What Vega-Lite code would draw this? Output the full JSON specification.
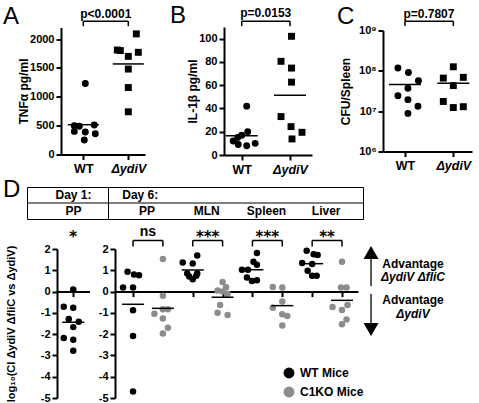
{
  "$schema": "https://vega.github.io/schema/vega-lite/v6.json",
  "autosize": {"type": "pad"},
  "padding": {"left": 0, "top": 4, "right": 0, "bottom": 0},
  "background": "white",
  "config": {
    "font": "Liberation Sans",
    "view": {"stroke": null},
    "axis": {"labelFont": "Liberation Sans", "labelFontWeight": "bold", "labelFontSize": 11, "labelColor": "black", "labelOverlap": false, "titleFont": "Liberation Sans", "titleFontWeight": "bold", "titleFontSize": 12, "titleColor": "black", "domainColor": "black", "domainWidth": 2, "tickColor": "black", "tickWidth": 2, "tickSize": 5, "grid": false, "labelPadding": 2},
    "title": {"font": "Liberation Sans", "fontWeight": "normal", "fontSize": 24, "color": "black", "anchor": "start", "frame": "group", "offset": 0},
    "text": {"font": "Liberation Sans", "fontWeight": "bold", "color": "black"}
  },
  "bounds": "full",
  "spacing": 1,
  "resolve": {"scale": {"color": "independent"}, "legend": {"color": "independent"}},
  "vconcat": [
    {
      "bounds": "flush",
      "center": true,
      "spacing": 35,
      "hconcat": [
        {"width": 26, "height": 1, "data": {"values": [{}]}, "mark": {"type": "rect", "opacity": 0}, "encoding": {}},
        {
          "width": 84, "height": 127,
          "title": {"text": "A", "dx": -58, "dy": 25},
          "data": {"values": [
            {"group": "WT", "v": 1230, "j": 0.4},
            {"group": "WT", "v": 500, "j": -1.8},
            {"group": "WT", "v": 490, "j": -0.8},
            {"group": "WT", "v": 510, "j": 2.2},
            {"group": "WT", "v": 400, "j": -1.8},
            {"group": "WT", "v": 390, "j": 0.4},
            {"group": "WT", "v": 360, "j": 2.4},
            {"group": "WT", "v": 250, "j": 0.2},
            {"group": "ΔydiV", "v": 2090, "j": 1.6},
            {"group": "ΔydiV", "v": 1810, "j": -2.2},
            {"group": "ΔydiV", "v": 1800, "j": -1.6},
            {"group": "ΔydiV", "v": 1770, "j": 2.0},
            {"group": "ΔydiV", "v": 1700, "j": 0},
            {"group": "ΔydiV", "v": 1480, "j": 0},
            {"group": "ΔydiV", "v": 1160, "j": 0},
            {"group": "ΔydiV", "v": 740, "j": 0}
          ]},
          "layer": [
            {"mark": {"type": "point", "filled": true, "opacity": 1, "size": 48, "color": "black"},
             "encoding": {
               "x": {"field": "group", "type": "nominal", "scale": {"type": "point", "domain": ["WT", "ΔydiV"], "padding": 0.433, "align": 0.572}, "axis": {"title": null, "labelAngle": 0, "labelFontSize": 12.5, "labelPadding": 3, "labelFontStyle": {"condition": {"test": "datum.value === 'WT'", "value": "normal"}, "value": "italic"}}},
               "xOffset": {"field": "j", "type": "quantitative", "scale": {"domain": [-3, 3], "range": [-15, 15]}},
               "y": {"field": "v", "type": "quantitative", "scale": {"domain": [0, 2200], "nice": false}, "axis": {"values": [0, 500, 1000, 1500, 2000], "tickCount": 20, "format": "d", "labelOverlap": false, "title": "TNFα pg/ml", "titlePadding": -1}},
               "shape": {"field": "group", "type": "nominal", "scale": {"domain": ["WT", "ΔydiV"], "range": ["circle", "square"]}, "legend": null}
             }},
            {"mark": {"type": "tick", "color": "black", "size": 31, "thickness": 1.5},
             "encoding": {"x": {"field": "group", "type": "nominal"}, "y": {"aggregate": "mean", "field": "v", "type": "quantitative"}}},
            {"data": {"values": [{}]}, "mark": {"type": "rule", "color": "black", "strokeWidth": 1.5},
             "encoding": {"x": {"datum": "WT"}, "x2": {"datum": "ΔydiV"}, "y": {"datum": 2309}}},
            {"data": {"values": [{}]}, "mark": {"type": "rule", "color": "black", "strokeWidth": 1.5},
             "encoding": {"x": {"datum": "WT"}, "y": {"datum": 2309}, "y2": {"datum": 2222}}},
            {"data": {"values": [{}]}, "mark": {"type": "rule", "color": "black", "strokeWidth": 1.5},
             "encoding": {"x": {"datum": "ΔydiV"}, "y": {"datum": 2309}, "y2": {"datum": 2222}}},
            {"data": {"values": [{}]}, "mark": {"type": "text", "fontSize": 12, "dx": 22.5, "align": "center", "baseline": "alphabetic"},
             "encoding": {"x": {"datum": "WT"}, "y": {"datum": 2373}, "text": {"value": "p<0.0001"}}}
          ]
        },
        {"width": 9, "height": 1, "data": {"values": [{}]}, "mark": {"type": "rect", "opacity": 0}, "encoding": {}},
        {
          "width": 88, "height": 128,
          "title": {"text": "B", "dx": -54, "dy": 25},
          "data": {"values": [
            {"group": "WT", "v": 42, "j": 1},
            {"group": "WT", "v": 20, "j": 1.2},
            {"group": "WT", "v": 17, "j": 0},
            {"group": "WT", "v": 15, "j": -0.8},
            {"group": "WT", "v": 12, "j": -1.7},
            {"group": "WT", "v": 10, "j": 2.7},
            {"group": "WT", "v": 9, "j": -0.7},
            {"group": "WT", "v": 8, "j": 1},
            {"group": "ΔydiV", "v": 102, "j": 0.3},
            {"group": "ΔydiV", "v": 80.5, "j": -1.8},
            {"group": "ΔydiV", "v": 74.7, "j": 0.3},
            {"group": "ΔydiV", "v": 62.6, "j": 0.3},
            {"group": "ΔydiV", "v": 33, "j": -1.8},
            {"group": "ΔydiV", "v": 24.4, "j": 0.2},
            {"group": "ΔydiV", "v": 19.5, "j": 2.4},
            {"group": "ΔydiV", "v": 13.8, "j": 0.4}
          ]},
          "layer": [
            {"mark": {"type": "point", "filled": true, "opacity": 1, "size": 48, "color": "black"},
             "encoding": {
               "x": {"field": "group", "type": "nominal", "scale": {"type": "point", "domain": ["WT", "ΔydiV"], "padding": 0.411, "align": 0.446}, "axis": {"title": null, "labelAngle": 0, "labelFontSize": 12.5, "labelPadding": 3, "labelFontStyle": {"condition": {"test": "datum.value === 'WT'", "value": "normal"}, "value": "italic"}}},
               "xOffset": {"field": "j", "type": "quantitative", "scale": {"domain": [-3, 3], "range": [-15, 15]}},
               "y": {"field": "v", "type": "quantitative", "scale": {"domain": [0, 110], "nice": false}, "axis": {"values": [0, 20, 40, 60, 80, 100], "tickCount": 20, "format": "d", "labelOverlap": false, "title": "IL-1β pg/ml", "titlePadding": -1}},
               "shape": {"field": "group", "type": "nominal", "scale": {"domain": ["WT", "ΔydiV"], "range": ["circle", "square"]}, "legend": null}
             }},
            {"mark": {"type": "tick", "color": "black", "size": 32, "thickness": 1.5},
             "encoding": {"x": {"field": "group", "type": "nominal"}, "y": {"aggregate": "mean", "field": "v", "type": "quantitative"}}},
            {"data": {"values": [{}]}, "mark": {"type": "rule", "color": "black", "strokeWidth": 1.5},
             "encoding": {"x": {"datum": "WT"}, "x2": {"datum": "ΔydiV"}, "y": {"datum": 115}}},
            {"data": {"values": [{}]}, "mark": {"type": "rule", "color": "black", "strokeWidth": 1.5},
             "encoding": {"x": {"datum": "WT"}, "y": {"datum": 115}, "y2": {"datum": 110.7}}},
            {"data": {"values": [{}]}, "mark": {"type": "rule", "color": "black", "strokeWidth": 1.5},
             "encoding": {"x": {"datum": "ΔydiV"}, "y": {"datum": 115}, "y2": {"datum": 110.7}}},
            {"data": {"values": [{}]}, "mark": {"type": "text", "fontSize": 12, "dx": 24, "align": "center", "baseline": "alphabetic"},
             "encoding": {"x": {"datum": "WT"}, "y": {"datum": 118.2}, "text": {"value": "p=0.0153"}}}
          ]
        },
        {"width": 1, "height": 1, "data": {"values": [{}]}, "mark": {"type": "rect", "opacity": 0}, "encoding": {}},
        {
          "width": 89, "height": 121,
          "title": {"text": "C", "dx": -46, "dy": 25},
          "data": {"values": [
            {"group": "WT", "v": 117000000, "j": -1.4},
            {"group": "WT", "v": 91000000, "j": 0.7},
            {"group": "WT", "v": 57000000, "j": 2.7},
            {"group": "WT", "v": 37000000, "j": 0.6},
            {"group": "WT", "v": 24000000, "j": -1.4},
            {"group": "WT", "v": 19300000, "j": 0.6},
            {"group": "WT", "v": 13200000, "j": 2.6},
            {"group": "WT", "v": 8800000, "j": 0.6},
            {"group": "ΔydiV", "v": 126000000, "j": 0},
            {"group": "ΔydiV", "v": 66000000, "j": -2},
            {"group": "ΔydiV", "v": 69000000, "j": 2},
            {"group": "ΔydiV", "v": 43000000, "j": 0},
            {"group": "ΔydiV", "v": 17400000, "j": -2},
            {"group": "ΔydiV", "v": 12300000, "j": 0},
            {"group": "ΔydiV", "v": 12900000, "j": 2}
          ]},
          "layer": [
            {"mark": {"type": "point", "filled": true, "opacity": 1, "size": 48, "color": "black"},
             "encoding": {
               "x": {"field": "group", "type": "nominal", "scale": {"type": "point", "domain": ["WT", "ΔydiV"], "padding": 0.42, "align": 0.54}, "axis": {"title": null, "labelAngle": 0, "labelFontSize": 12.5, "labelPadding": 3, "labelFontStyle": {"condition": {"test": "datum.value === 'WT'", "value": "normal"}, "value": "italic"}}},
               "xOffset": {"field": "j", "type": "quantitative", "scale": {"domain": [-3, 3], "range": [-15, 15]}},
               "y": {"field": "v", "type": "quantitative", "scale": {"type": "log", "domain": [1000000, 1000000000], "nice": false}, "axis": {"values": [1000000, 10000000, 100000000, 1000000000], "tickCount": 20, "labelOverlap": false, "labelExpr": "'10' + ['⁶','⁷','⁸','⁹'][round(log(datum.value)/LN10)-6]", "title": "CFU/Spleen", "titlePadding": 6}},
               "shape": {"field": "group", "type": "nominal", "scale": {"domain": ["WT", "ΔydiV"], "range": ["circle", "square"]}, "legend": null}
             }},
            {"mark": {"type": "tick", "color": "black", "size": 32, "thickness": 1.5},
             "encoding": {"x": {"field": "group", "type": "nominal"}, "y": {"aggregate": "mean", "field": "v", "type": "quantitative"}}},
            {"data": {"values": [{}]}, "mark": {"type": "rule", "color": "black", "strokeWidth": 1.5},
             "encoding": {"x": {"datum": "WT"}, "x2": {"datum": "ΔydiV"}, "y": {"datum": 1700000000}}},
            {"data": {"values": [{}]}, "mark": {"type": "rule", "color": "black", "strokeWidth": 1.5},
             "encoding": {"x": {"datum": "WT"}, "y": {"datum": 1700000000}, "y2": {"datum": 1290000000}}},
            {"data": {"values": [{}]}, "mark": {"type": "rule", "color": "black", "strokeWidth": 1.5},
             "encoding": {"x": {"datum": "ΔydiV"}, "y": {"datum": 1700000000}, "y2": {"datum": 1290000000}}},
            {"data": {"values": [{}]}, "mark": {"type": "text", "fontSize": 12, "dx": 24, "align": "center", "baseline": "alphabetic"},
             "encoding": {"x": {"datum": "WT"}, "y": {"datum": 2100000000}, "text": {"value": "p=0.7807"}}}
          ]
        }
      ]
    },
    {
      "bounds": "flush",
      "spacing": 0,
      "hconcat": [
        {"width": 27, "height": 36.5, "data": {"values": [{}]}, "mark": {"type": "rect", "opacity": 0}, "encoding": {}},
        {
          "width": 81, "height": 32,
          "view": {"stroke": "black", "strokeWidth": 1, "fill": "white"},
          "title": {"text": "D", "dx": -24, "dy": 19},
          "data": {"values": [{"row": "Day", "t": "Day 1:"}, {"row": "Tissue", "t": "PP"}]},
          "layer": [
            {"mark": {"type": "text", "fontSize": 12, "baseline": "middle", "align": "center", "dx": 6},
             "encoding": {"y": {"field": "row", "type": "nominal", "scale": {"type": "band", "domain": ["Day", "Tissue"], "paddingInner": 0, "paddingOuter": 0}, "axis": null}, "text": {"field": "t"}}},
            {"data": {"values": [{}]}, "mark": {"type": "rule", "color": "black", "strokeWidth": 1},
             "encoding": {"y": {"datum": "Tissue", "type": "nominal", "bandPosition": 0, "axis": null}}}
          ]
        },
        {
          "width": 255, "height": 32,
          "view": {"stroke": "black", "strokeWidth": 1, "fill": "white"},
          "data": {"values": [{"tissue": "PP"}, {"tissue": "MLN"}, {"tissue": "Spleen"}, {"tissue": "Liver"}]},
          "layer": [
            {"mark": {"type": "text", "fontSize": 12, "baseline": "middle", "align": "center"},
             "encoding": {
               "x": {"field": "tissue", "type": "nominal", "scale": {"type": "band", "domain": ["PP", "MLN", "Spleen", "Liver"], "paddingInner": 0, "paddingOuter": 0.136, "align": 0.57}, "axis": null},
               "y": {"datum": "Tissue", "type": "nominal", "scale": {"type": "band", "domain": ["Day", "Tissue"], "paddingInner": 0, "paddingOuter": 0}, "axis": null},
               "text": {"field": "tissue"}
             }},
            {"data": {"values": [{}]}, "mark": {"type": "text", "fontSize": 12, "baseline": "middle", "align": "left", "dx": 5},
             "encoding": {"x": {"datum": "PP", "type": "nominal", "bandPosition": 0, "axis": null}, "y": {"datum": "Day", "type": "nominal", "axis": null}, "text": {"value": "Day 6:"}}},
            {"data": {"values": [{}]}, "mark": {"type": "rule", "color": "black", "strokeWidth": 1},
             "encoding": {"y": {"datum": "Tissue", "type": "nominal", "bandPosition": 0, "axis": null}}}
          ]
        }
      ]
    },
    {
      "bounds": "flush",
      "spacing": 25,
      "resolve": {"scale": {"color": "independent"}, "legend": {"color": "independent"}},
      "hconcat": [
        {"width": 31.5, "height": 1, "data": {"values": [{}]}, "mark": {"type": "rect", "opacity": 0}, "encoding": {}},
        {
          "width": 32.5, "height": 149,
          "data": {"values": [
            {"g": "PP", "v": 0.1, "j": 0},
            {"g": "PP", "v": -0.71, "j": -1.9},
            {"g": "PP", "v": -0.76, "j": 0},
            {"g": "PP", "v": -1.29, "j": -0.9},
            {"g": "PP", "v": -1.42, "j": 1.1},
            {"g": "PP", "v": -1.67, "j": 0},
            {"g": "PP", "v": -2.18, "j": -1.9},
            {"g": "PP", "v": -2.26, "j": 0},
            {"g": "PP", "v": -2.78, "j": 0}
          ]},
          "layer": [
            {"mark": {"type": "point", "filled": true, "opacity": 1, "size": 42, "color": "black"},
             "encoding": {
               "x": {"field": "g", "type": "nominal", "scale": {"type": "point", "padding": 0.5}, "axis": {"title": null, "labels": false, "offset": -106.43}},
               "xOffset": {"field": "j", "type": "quantitative", "scale": {"domain": [-3, 3], "range": [-15, 15]}},
               "y": {"field": "v", "type": "quantitative", "scale": {"domain": [-5, 2], "nice": false}, "axis": {"values": [-5, -4, -3, -2, -1, 0, 1, 2], "tickCount": 20, "labelOverlap": false, "labelExpr": "'' + datum.value", "title": "log₁₀(CI ΔydiV ΔfliC vs ΔydiV)", "titleFontSize": 11, "titlePadding": 24}}
             }},
            {"mark": {"type": "tick", "color": "black", "size": 22, "thickness": 1.5},
             "encoding": {"x": {"field": "g", "type": "nominal"}, "y": {"aggregate": "mean", "field": "v", "type": "quantitative"}}},
            {"data": {"values": [{}]}, "mark": {"type": "text", "font": "DejaVu Sans", "fontSize": 15, "align": "center", "baseline": "alphabetic"},
             "encoding": {"x": {"datum": "PP"}, "y": {"datum": 2.33}, "text": {"value": "*"}}}
          ]
        },
        {
          "width": 243, "height": 149,
          "data": {"values": [
            {"g": "PP WT", "mice": "WT Mice", "v": 0.93, "j": -1.1},
            {"g": "PP WT", "mice": "WT Mice", "v": 0.8, "j": 0.2},
            {"g": "PP WT", "mice": "WT Mice", "v": 0.77, "j": 1.2},
            {"g": "PP WT", "mice": "WT Mice", "v": 0.19, "j": -2},
            {"g": "PP WT", "mice": "WT Mice", "v": 0.19, "j": 0},
            {"g": "PP WT", "mice": "WT Mice", "v": -0.88, "j": 0},
            {"g": "PP WT", "mice": "WT Mice", "v": -2.09, "j": 0},
            {"g": "PP WT", "mice": "WT Mice", "v": -4.69, "j": 0},
            {"g": "PP C1KO", "mice": "C1KO Mice", "v": 1.53, "j": 0},
            {"g": "PP C1KO", "mice": "C1KO Mice", "v": -0.2, "j": 0},
            {"g": "PP C1KO", "mice": "C1KO Mice", "v": -1.04, "j": -1.7},
            {"g": "PP C1KO", "mice": "C1KO Mice", "v": -0.83, "j": 0},
            {"g": "PP C1KO", "mice": "C1KO Mice", "v": -0.83, "j": 1},
            {"g": "PP C1KO", "mice": "C1KO Mice", "v": -1.26, "j": 0},
            {"g": "PP C1KO", "mice": "C1KO Mice", "v": -1.7, "j": 1},
            {"g": "PP C1KO", "mice": "C1KO Mice", "v": -1.97, "j": 0},
            {"g": "MLN WT", "mice": "WT Mice", "v": 1.37, "j": -2},
            {"g": "MLN WT", "mice": "WT Mice", "v": 1.69, "j": 0.9},
            {"g": "MLN WT", "mice": "WT Mice", "v": 1.32, "j": 0},
            {"g": "MLN WT", "mice": "WT Mice", "v": 0.85, "j": -1.1},
            {"g": "MLN WT", "mice": "WT Mice", "v": 0.85, "j": 0.9},
            {"g": "MLN WT", "mice": "WT Mice", "v": 0.71, "j": -0.7},
            {"g": "MLN WT", "mice": "WT Mice", "v": 0.58, "j": 0},
            {"g": "MLN WT", "mice": "WT Mice", "v": 0.74, "j": 0.7},
            {"g": "MLN C1KO", "mice": "C1KO Mice", "v": 0.45, "j": 0},
            {"g": "MLN C1KO", "mice": "C1KO Mice", "v": 0.2, "j": 0.7},
            {"g": "MLN C1KO", "mice": "C1KO Mice", "v": 0.05, "j": -1},
            {"g": "MLN C1KO", "mice": "C1KO Mice", "v": 0.0, "j": 0},
            {"g": "MLN C1KO", "mice": "C1KO Mice", "v": -0.1, "j": 1},
            {"g": "MLN C1KO", "mice": "C1KO Mice", "v": -0.63, "j": -0.5},
            {"g": "MLN C1KO", "mice": "C1KO Mice", "v": -1.0, "j": -1},
            {"g": "MLN C1KO", "mice": "C1KO Mice", "v": -1.1, "j": 1},
            {"g": "Spleen WT", "mice": "WT Mice", "v": 1.81, "j": 0.9},
            {"g": "Spleen WT", "mice": "WT Mice", "v": 1.4, "j": 0.2},
            {"g": "Spleen WT", "mice": "WT Mice", "v": 1.26, "j": 0.9},
            {"g": "Spleen WT", "mice": "WT Mice", "v": 1.02, "j": -2.1},
            {"g": "Spleen WT", "mice": "WT Mice", "v": 1.02, "j": -0.9},
            {"g": "Spleen WT", "mice": "WT Mice", "v": 0.66, "j": -1.1},
            {"g": "Spleen WT", "mice": "WT Mice", "v": 0.5, "j": -0.1},
            {"g": "Spleen WT", "mice": "WT Mice", "v": 0.53, "j": 0.9},
            {"g": "Spleen C1KO", "mice": "C1KO Mice", "v": 0.22, "j": -1.9},
            {"g": "Spleen C1KO", "mice": "C1KO Mice", "v": 0.19, "j": 0},
            {"g": "Spleen C1KO", "mice": "C1KO Mice", "v": -0.47, "j": 0},
            {"g": "Spleen C1KO", "mice": "C1KO Mice", "v": -0.76, "j": -1.9},
            {"g": "Spleen C1KO", "mice": "C1KO Mice", "v": -1.07, "j": 0},
            {"g": "Spleen C1KO", "mice": "C1KO Mice", "v": -1.15, "j": 1},
            {"g": "Spleen C1KO", "mice": "C1KO Mice", "v": -1.59, "j": 0},
            {"g": "Liver WT", "mice": "WT Mice", "v": 1.92, "j": -1.1},
            {"g": "Liver WT", "mice": "WT Mice", "v": 1.75, "j": 0.3},
            {"g": "Liver WT", "mice": "WT Mice", "v": 1.72, "j": 1.1},
            {"g": "Liver WT", "mice": "WT Mice", "v": 1.34, "j": -2},
            {"g": "Liver WT", "mice": "WT Mice", "v": 1.29, "j": 0},
            {"g": "Liver WT", "mice": "WT Mice", "v": 0.98, "j": -0.9},
            {"g": "Liver WT", "mice": "WT Mice", "v": 0.74, "j": 0},
            {"g": "Liver WT", "mice": "WT Mice", "v": 0.74, "j": 0.9},
            {"g": "Liver C1KO", "mice": "C1KO Mice", "v": 1.4, "j": 0},
            {"g": "Liver C1KO", "mice": "C1KO Mice", "v": 0.19, "j": -0.2},
            {"g": "Liver C1KO", "mice": "C1KO Mice", "v": 0.19, "j": 0.9},
            {"g": "Liver C1KO", "mice": "C1KO Mice", "v": -0.72, "j": -1.9},
            {"g": "Liver C1KO", "mice": "C1KO Mice", "v": -0.87, "j": 0},
            {"g": "Liver C1KO", "mice": "C1KO Mice", "v": -0.63, "j": 1.1},
            {"g": "Liver C1KO", "mice": "C1KO Mice", "v": -1.31, "j": 0.9},
            {"g": "Liver C1KO", "mice": "C1KO Mice", "v": -1.54, "j": 0}
          ]},
          "layer": [
            {"mark": {"type": "point", "filled": true, "opacity": 1, "size": 42},
             "encoding": {
               "x": {"field": "g", "type": "nominal", "scale": {"type": "point", "domain": ["PP WT", "PP C1KO", "MLN WT", "MLN C1KO", "Spleen WT", "Spleen C1KO", "Liver WT", "Liver C1KO"], "padding": 0.57, "align": 0.53}, "axis": {"title": null, "labels": false, "offset": -106.43}},
               "xOffset": {"field": "j", "type": "quantitative", "scale": {"domain": [-3, 3], "range": [-15, 15]}},
               "y": {"field": "v", "type": "quantitative", "scale": {"domain": [-5, 2], "nice": false}, "axis": {"values": [-5, -4, -3, -2, -1, 0, 1, 2], "tickCount": 20, "labelOverlap": false, "labelExpr": "'' + datum.value", "title": null}},
               "color": {"field": "mice", "type": "nominal", "scale": {"domain": ["WT Mice", "C1KO Mice"], "range": ["#000000", "#8c8c8c"]},
                         "legend": {"orient": "none", "legendX": 168, "legendY": 118, "title": null, "symbolType": "circle", "symbolSize": 120, "labelFont": "Liberation Sans", "labelFontSize": 12, "labelFontWeight": "bold", "labelColor": "black", "rowPadding": 7, "labelOffset": 5, "symbolStrokeWidth": 0}}
             }},
            {"mark": {"type": "tick", "color": "black", "size": 22, "thickness": 1.5},
             "encoding": {"x": {"field": "g", "type": "nominal"}, "y": {"aggregate": "mean", "field": "v", "type": "quantitative"}}},
            {"data": {"values": [
               {"a": "PP WT", "b": "PP C1KO", "sig": "ns"},
               {"a": "MLN WT", "b": "MLN C1KO", "sig": "***"},
               {"a": "Spleen WT", "b": "Spleen C1KO", "sig": "***"},
               {"a": "Liver WT", "b": "Liver C1KO", "sig": "**"}
             ]},
             "layer": [
               {"mark": {"type": "rule", "color": "black", "strokeWidth": 1.5},
                "encoding": {"x": {"field": "a", "type": "nominal"}, "x2": {"field": "b"}, "y": {"datum": 2.4}}},
               {"mark": {"type": "rule", "color": "black", "strokeWidth": 1.5},
                "encoding": {"x": {"field": "a", "type": "nominal"}, "y": {"datum": 2.4}, "y2": {"datum": 2.12}}},
               {"mark": {"type": "rule", "color": "black", "strokeWidth": 1.5},
                "encoding": {"x": {"field": "b", "type": "nominal"}, "y": {"datum": 2.4}, "y2": {"datum": 2.12}}},
               {"transform": [{"filter": "datum.sig == 'ns'"}],
                "mark": {"type": "text", "fontSize": 14, "align": "center", "baseline": "alphabetic", "dx": 14.9},
                "encoding": {"x": {"field": "a", "type": "nominal"}, "y": {"datum": 2.59}, "text": {"field": "sig"}}},
               {"transform": [{"filter": "datum.sig != 'ns'"}],
                "mark": {"type": "text", "font": "DejaVu Sans", "fontSize": 15, "align": "center", "baseline": "alphabetic", "dx": 14.9},
                "encoding": {"x": {"field": "a", "type": "nominal"}, "y": {"datum": 2.33}, "text": {"field": "sig"}}}
             ]}
          ]
        },
        {
          "width": 90, "height": 149,
          "data": {"values": [{}]},
          "layer": [
            {"mark": {"type": "rule", "color": "black", "strokeWidth": 1.3},
             "encoding": {"x": {"datum": -0.133, "type": "quantitative", "scale": {"domain": [0, 1]}, "axis": null}, "y": {"datum": 0.262, "type": "quantitative", "scale": {"domain": [-5, 2], "nice": false}, "axis": null}, "y2": {"datum": 1.81}}},
            {"mark": {"type": "rule", "color": "black", "strokeWidth": 1.3},
             "encoding": {"x": {"datum": -0.133, "type": "quantitative", "axis": null}, "y": {"datum": -0.114, "type": "quantitative", "axis": null}, "y2": {"datum": -1.76}}},
            {"mark": {"type": "point", "shape": "triangle-up", "filled": true, "opacity": 1, "size": 225, "color": "black"},
             "encoding": {"x": {"datum": -0.133, "type": "quantitative", "axis": null}, "y": {"datum": 1.836, "type": "quantitative", "axis": null}}},
            {"mark": {"type": "point", "shape": "triangle-down", "filled": true, "opacity": 1, "size": 225, "color": "black"},
             "encoding": {"x": {"datum": -0.133, "type": "quantitative", "axis": null}, "y": {"datum": -1.781, "type": "quantitative", "axis": null}}},
            {"mark": {"type": "text", "fontSize": 12, "align": "center", "baseline": "alphabetic"},
             "encoding": {"x": {"datum": 0.333, "type": "quantitative", "axis": null}, "y": {"datum": 1.108, "type": "quantitative", "axis": null}, "text": {"value": "Advantage"}}},
            {"mark": {"type": "text", "fontSize": 12, "fontStyle": "italic", "align": "center", "baseline": "alphabetic"},
             "encoding": {"x": {"datum": 0.333, "type": "quantitative", "axis": null}, "y": {"datum": 0.497, "type": "quantitative", "axis": null}, "text": {"value": "ΔydiV ΔfliC"}}},
            {"mark": {"type": "text", "fontSize": 12, "align": "center", "baseline": "alphabetic"},
             "encoding": {"x": {"datum": 0.333, "type": "quantitative", "axis": null}, "y": {"datum": -0.6, "type": "quantitative", "axis": null}, "text": {"value": "Advantage"}}},
            {"mark": {"type": "text", "fontSize": 12, "fontStyle": "italic", "align": "center", "baseline": "alphabetic"},
             "encoding": {"x": {"datum": 0.333, "type": "quantitative", "axis": null}, "y": {"datum": -1.24, "type": "quantitative", "axis": null}, "text": {"value": "ΔydiV"}}}
          ]
        }
      ]
    }
  ]
}
